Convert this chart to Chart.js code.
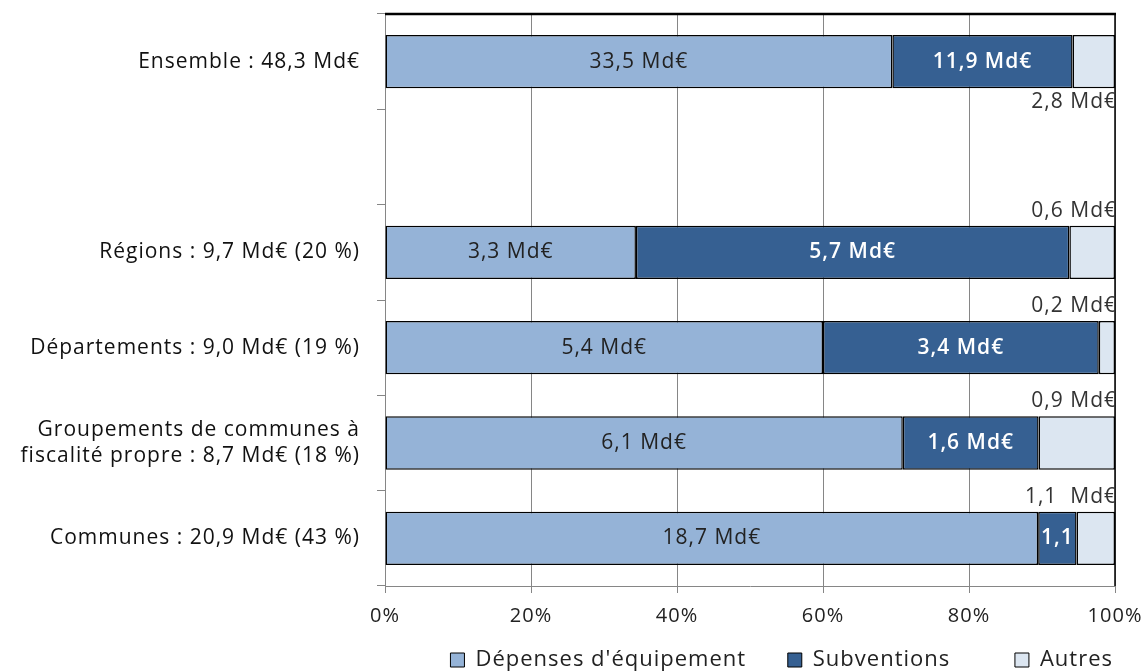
<!DOCTYPE html>
<html>
<head>
<meta charset="utf-8">
<script src="https://cdn.jsdelivr.net/npm/chart.js@4.4.1/dist/chart.umd.min.js"></script>
<style>
  html, body { margin: 0; padding: 0; background: #fff; }
  #wrap { width: 1147px; height: 672px; position: relative; }
</style>
</head>
<body>
<div id="wrap"><canvas id="c" width="1147" height="672"></canvas></div>
<script>
// ---- Data ----
const categories = [
  'Ensemble : 48,3 Md€',
  '',
  'Régions : 9,7 Md€ (20 %)',
  'Départements : 9,0 Md€ (19 %)',
  ['Groupements de communes à', 'fiscalité propre : 8,7 Md€ (18 %)'],
  'Communes : 20,9 Md€ (43 %)'
];
const seriesNames = ["Dépenses d'équipement", 'Subventions', 'Autres'];
const depenses    = [33.5, null, 3.3, 5.4, 6.1, 18.7];
const subventions = [11.9, null, 5.7, 3.4, 1.6, 1.1];
const autres      = [2.8,  null, 0.6, 0.2, 0.9, 1.1];
const depensesLabels    = ['33,5 Md€', '', '3,3 Md€', '5,4 Md€', '6,1 Md€', '18,7 Md€'];
const subventionsLabels = ['11,9 Md€', '', '5,7 Md€', '3,4 Md€', '1,6 Md€', '1,1'];
const autresLabels      = ['2,8 Md€', '', '0,6 Md€', '0,2 Md€', '0,9 Md€', '1,1  Md€'];

// ---- 100% stacking ----
const totals = depenses.map((v, i) => v == null ? null : v + subventions[i] + autres[i]);
const share = arr => arr.map((v, i) => v == null ? null : v / totals[i] * 100);

const FONT = '"Open Sans", Lato, sans-serif';
const SPACING = '1px';
const colors = ['#95B3D7', '#366092', '#DCE6F1'];
const labelArrays = [depensesLabels, subventionsLabels, autresLabels];
const legendGaps = ['\u2003\u2002\u2006', '\u2003\u2003\u2002\u2006', ''];

const spacingPlugin = {
  id: 'spacing',
  beforeUpdate(chart) { chart.ctx.letterSpacing = SPACING; },
  beforeLayout(chart) { chart.ctx.letterSpacing = SPACING; },
  beforeDraw(chart) { chart.ctx.letterSpacing = SPACING; }
};

const labelPlugin = {
  id: 'segLabels',
  afterDatasetsDraw(chart) {
    const ctx = chart.ctx;
    const area = chart.chartArea;
    ctx.save();
    ctx.letterSpacing = SPACING;
    ctx.strokeStyle = '#000';
    ctx.lineWidth = 2.5;
    ctx.beginPath();
    ctx.moveTo(area.left, area.top);
    ctx.lineTo(area.right + 1, area.top);
    ctx.stroke();
    ctx.lineWidth = 1.5;
    ctx.beginPath();
    ctx.moveTo(area.right, area.top);
    ctx.lineTo(area.right, area.bottom);
    ctx.stroke();

    chart.data.datasets.forEach((ds, di) => {
      const meta = chart.getDatasetMeta(di);
      meta.data.forEach((bar, j) => {
        const txt = labelArrays[di][j];
        if (!txt || ds.data[j] == null) return;
        const p = bar.getProps(['x', 'y', 'base', 'height'], true);
        ctx.textBaseline = 'middle';
        if (di === 0) {
          ctx.font = '21px ' + FONT;
          ctx.fillStyle = '#222';
          ctx.textAlign = 'center';
          ctx.fillText(txt, (p.x + p.base) / 2, p.y);
        } else if (di === 1) {
          ctx.font = '600 21px ' + FONT;
          ctx.fillStyle = '#fff';
          ctx.textAlign = 'center';
          ctx.fillText(txt, (p.x + p.base) / 2, p.y);
        } else {
          ctx.font = '21px ' + FONT;
          ctx.fillStyle = '#333';
          ctx.textAlign = 'right';
          const yy = j === 0 ? p.y + p.height / 2 + 14 : p.y - p.height / 2 - 15;
          ctx.fillText(txt, area.right + 2, yy);
        }
      });
    });
    ctx.restore();
  }
};

new Chart(document.getElementById('c'), {
  type: 'bar',
  data: {
    labels: categories,
    datasets: [
      { label: seriesNames[0], data: share(depenses), backgroundColor: colors[0] },
      { label: seriesNames[1], data: share(subventions), backgroundColor: colors[1] },
      { label: seriesNames[2], data: share(autres), backgroundColor: colors[2] }
    ].map(d => Object.assign(d, {
      borderColor: '#000', borderWidth: 1.5, borderSkipped: false,
      barPercentage: 0.56, categoryPercentage: 1
    }))
  },
  options: {
    indexAxis: 'y',
    responsive: false,
    animation: false,
    devicePixelRatio: 1,
    layout: { padding: { left: 0, right: 32, top: 14, bottom: -9 } },
    scales: {
      x: {
        stacked: true, min: 0, max: 100,
        afterFit: s => { s.height = 61; s.paddingLeft = 0; s.paddingRight = 0; },
        ticks: {
          stepSize: 20,
          callback: v => v + '%', color: '#222', padding: 11,
          font: { family: FONT, size: 20 }, maxRotation: 0
        },
        grid: { color: '#868686', lineWidth: 1, tickLength: 7, drawTicks: true },
        border: { color: '#868686', width: 1 }
      },
      y: {
        stacked: true,
        afterFit: s => { s.width = 385; s.paddingTop = 0; s.paddingBottom = 0; },
        ticks: { color: '#111', padding: 17, font: { family: FONT, size: 21 } },
        grid: { drawOnChartArea: false, color: '#868686', tickLength: 8, offset: true },
        border: { color: '#868686', width: 1 }
      }
    },
    plugins: {
      legend: {
        position: 'bottom', fullSize: false, align: 'end',
        labels: {
          boxWidth: 14, boxHeight: 14, padding: 2, color: '#222',
          font: { family: FONT, size: 22 },
          generateLabels: chart => {
            const items = Chart.defaults.plugins.legend.labels.generateLabels(chart);
            items.forEach((it, i) => { it.text = it.text + legendGaps[i]; it.lineWidth = 1; });
            return items;
          }
        }
      },
      tooltip: { enabled: false }
    }
  },
  plugins: [spacingPlugin, labelPlugin]
});
</script>
</body>
</html>
